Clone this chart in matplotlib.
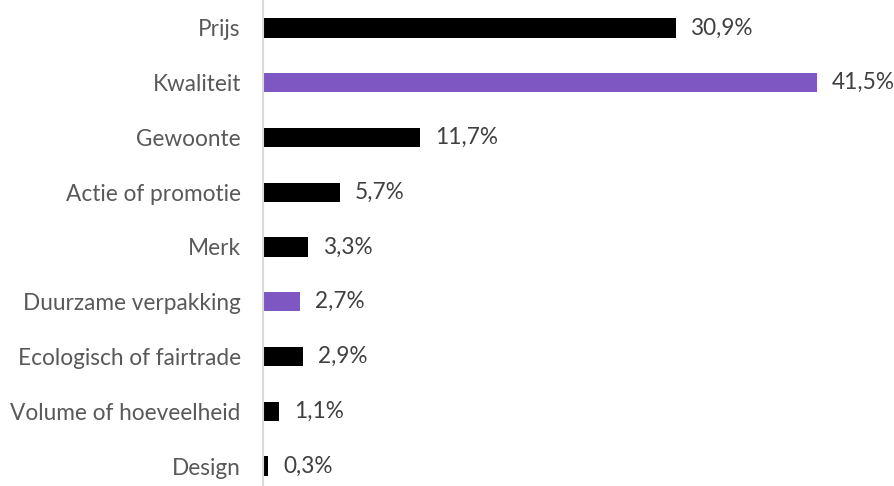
import matplotlib.pyplot as plt

categories = ["Prijs", "Kwaliteit", "Gewoonte", "Actie of promotie", "Merk",
              "Duurzame verpakking", "Ecologisch of fairtrade",
              "Volume of hoeveelheid", "Design"]
values = [30.9, 41.5, 11.7, 5.7, 3.3, 2.7, 2.9, 1.1, 0.3]
highlight = ["Kwaliteit", "Duurzame verpakking"]

BLACK = "#000000"
PURPLE = "#7E57C2"

plt.rcParams['font.family'] = ['Lato', 'DejaVu Sans']

fig = plt.figure(figsize=(8.94, 4.86), dpi=100)
ax = fig.add_axes([263 / 894, 0, 1 - 263 / 894, 1])

colors = [PURPLE if c in highlight else BLACK for c in categories]
y = list(range(len(categories)))
ax.barh(y, values, height=0.35, color=colors, left=0.1)

for yi, v in zip(y, values):
    ax.text(v + 0.1 + 1.1, yi, f"{v:.1f}%".replace(".", ","), va="center",
            ha="left", fontsize=16.3, color="#404040")

ax.set_yticks(y)
ax.set_yticklabels(categories, fontsize=16.3, color="#595959")
ax.tick_params(axis="y", length=0, pad=16)
ax.set_xticks([])
ax.set_xlim(0, 47.4)
ax.set_ylim(8.365, -0.511)

for s in ["top", "right", "bottom"]:
    ax.spines[s].set_visible(False)
ax.spines["left"].set_color("#d9d9d9")
ax.spines["left"].set_linewidth(1.5)

fig.savefig("out.png", dpi=100)
